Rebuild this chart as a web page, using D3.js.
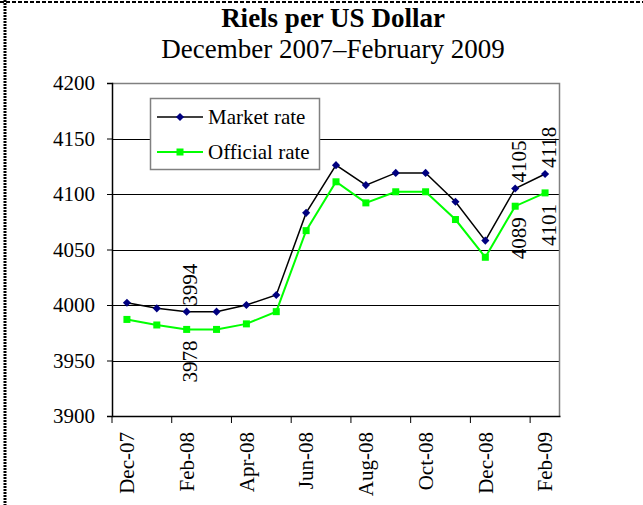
<!DOCTYPE html>
<html>
<head>
<meta charset="utf-8">
<script src="https://cdn.jsdelivr.net/npm/d3@7"></script>
<style>
  body { margin: 0; background: #fff; }
  svg text { font-family: "Liberation Serif", "Times New Roman", serif; fill: #000; }
</style>
</head>
<body>
<svg id="chart"></svg>
<script>
// months on the axis, one point per month
const months = ["Dec-07", "Jan-08", "Feb-08", "Mar-08", "Apr-08", "May-08", "Jun-08",
  "Jul-08", "Aug-08", "Sep-08", "Oct-08", "Nov-08", "Dec-08", "Jan-09", "Feb-09"];
const marketRate = [4002, 3997, 3994, 3994, 4000, 4009, 4083, 4126, 4108, 4119, 4119, 4093, 4058, 4105, 4118];
const officialRate = [3987, 3982, 3978, 3978, 3983, 3994, 4067, 4111, 4092, 4102, 4102, 4077, 4043, 4089, 4101];
const yTicks = [3900, 3950, 4000, 4050, 4100, 4150, 4200];
const xTickLabels = ["Dec-07", "Feb-08", "Apr-08", "Jun-08", "Aug-08", "Oct-08", "Dec-08", "Feb-09"];
// which points get a value label
const labelMonths = ["Feb-08", "Jan-09", "Feb-09"];

const width = 643, height = 505;
const plotLeft = 112, plotRight = 560, plotTop = 83, plotBottom = 416;

const svg = d3.select("#chart").attr("width", width).attr("height", height);

// dashed frame (top and left only, like the clipped original)
svg.append("line").attr("x1", 0).attr("x2", width).attr("y1", 2).attr("y2", 2)
  .attr("stroke", "#000").attr("stroke-width", 2).attr("stroke-dasharray", "4,2");
svg.append("line").attr("x1", 5).attr("x2", 5).attr("y1", 0).attr("y2", height)
  .attr("stroke", "#000").attr("stroke-width", 3).attr("stroke-dasharray", "2,1");

// titles
svg.append("text").attr("x", 333).attr("y", 27).attr("text-anchor", "middle")
  .attr("font-size", 27).attr("font-weight", "bold").text("Riels per US Dollar");
svg.append("text").attr("x", 333).attr("y", 58).attr("text-anchor", "middle")
  .attr("font-size", 27).text("December 2007\u2013February 2009");

const x = d3.scaleBand().domain(months).range([plotLeft, plotRight]).padding(0);
const y = d3.scaleLinear().domain([3900, 4200]).range([plotBottom, plotTop]);
const cx = m => x(m) + x.bandwidth() / 2;

// gridlines
svg.append("g").selectAll("line")
  .data(yTicks.filter(v => v > 3900 && v < 4200))
  .enter().append("line")
  .attr("x1", plotLeft).attr("x2", plotRight)
  .attr("y1", d => Math.round(y(d)) + 0.5).attr("y2", d => Math.round(y(d)) + 0.5)
  .attr("stroke", "#000").attr("stroke-width", 1);

// plot frame top/right in gray
svg.append("path")
  .attr("d", `M${plotLeft},${plotTop + 0.5}H${plotRight - 0.5}V${plotBottom}`)
  .attr("fill", "none").attr("stroke", "#808080").attr("stroke-width", 1.5);

// y axis
const yAxis = svg.append("g").attr("transform", `translate(${plotLeft},0)`)
  .call(d3.axisLeft(y).tickValues(yTicks).tickSize(5).tickPadding(12).tickFormat(d3.format("d")));
yAxis.select(".domain").attr("stroke", "#000").attr("stroke-width", 1.5);
yAxis.selectAll(".tick line").attr("stroke", "#000");
yAxis.selectAll(".tick text").attr("font-size", 21).attr("font-family", "Liberation Serif, serif");

// x axis: ticks at category boundaries, labels in the middle
const xAxis = svg.append("g").attr("transform", `translate(0,${plotBottom})`)
  .call(d3.axisBottom(x).tickValues(xTickLabels).tickSize(7).tickSizeOuter(0));
xAxis.select(".domain").attr("stroke", "#000").attr("stroke-width", 1.5);
xAxis.selectAll(".tick line")
  .attr("x1", -x.bandwidth() / 2).attr("x2", -x.bandwidth() / 2).attr("stroke", "#000");
xAxis.selectAll(".tick text")
  .attr("font-size", 21).attr("font-family", "Liberation Serif, serif")
  .attr("text-anchor", "end").attr("transform", "rotate(-90)")
  .attr("x", -16).attr("y", 0).attr("dy", "0.35em");

// lines
const line = vals => d3.line().x((d, i) => cx(months[i])).y(d => y(d))(vals);
svg.append("path").attr("d", line(officialRate))
  .attr("fill", "none").attr("stroke", "#00ff00").attr("stroke-width", 2);
svg.append("path").attr("d", line(marketRate))
  .attr("fill", "none").attr("stroke", "#000").attr("stroke-width", 1.5);

// markers
svg.append("g").selectAll("rect").data(officialRate).enter().append("rect")
  .attr("x", (d, i) => cx(months[i]) - 3.5).attr("y", d => y(d) - 3.5)
  .attr("width", 7).attr("height", 7).attr("fill", "#00ff00");
const diamond = d3.symbol().type(d3.symbolDiamond2).size(42);
svg.append("g").selectAll("path").data(marketRate).enter().append("path")
  .attr("d", diamond)
  .attr("transform", (d, i) => `translate(${cx(months[i])},${y(d)})`)
  .attr("fill", "#000080");

// value labels
months.forEach((m, i) => {
  if (!labelMonths.includes(m)) return;
  svg.append("text").attr("font-size", 21)
    .attr("transform", `translate(${cx(m)},${y(marketRate[i]) - 6}) rotate(-90)`)
    .attr("dy", "0.5em").attr("text-anchor", "start").text(marketRate[i]);
  svg.append("text").attr("font-size", 21)
    .attr("transform", `translate(${cx(m)},${y(officialRate[i]) + 11}) rotate(-90)`)
    .attr("dy", "0.5em").attr("text-anchor", "end").text(officialRate[i]);
});

// legend
const lg = svg.append("g");
lg.append("rect").attr("x", 150.5).attr("y", 98.5).attr("width", 169).attr("height", 71)
  .attr("fill", "#fff").attr("stroke", "#808080").attr("stroke-width", 1.5);
const legendItems = [
  { name: "Market rate", color: "#000", marker: "#000080", kind: "diamond", yy: 117 },
  { name: "Official rate", color: "#00ff00", marker: "#00ff00", kind: "square", yy: 152 }
];
legendItems.forEach(it => {
  lg.append("line").attr("x1", 157).attr("x2", 203).attr("y1", it.yy).attr("y2", it.yy)
    .attr("stroke", it.color).attr("stroke-width", it.kind === "square" ? 2 : 1.5);
  if (it.kind === "diamond") {
    lg.append("path").attr("d", diamond).attr("transform", `translate(180,${it.yy})`).attr("fill", it.marker);
  } else {
    lg.append("rect").attr("x", 176.5).attr("y", it.yy - 3.5).attr("width", 7).attr("height", 7).attr("fill", it.marker);
  }
  lg.append("text").attr("x", 208).attr("y", it.yy).attr("dy", "0.35em")
    .attr("font-size", 21).text(it.name);
});
</script>
</body>
</html>
